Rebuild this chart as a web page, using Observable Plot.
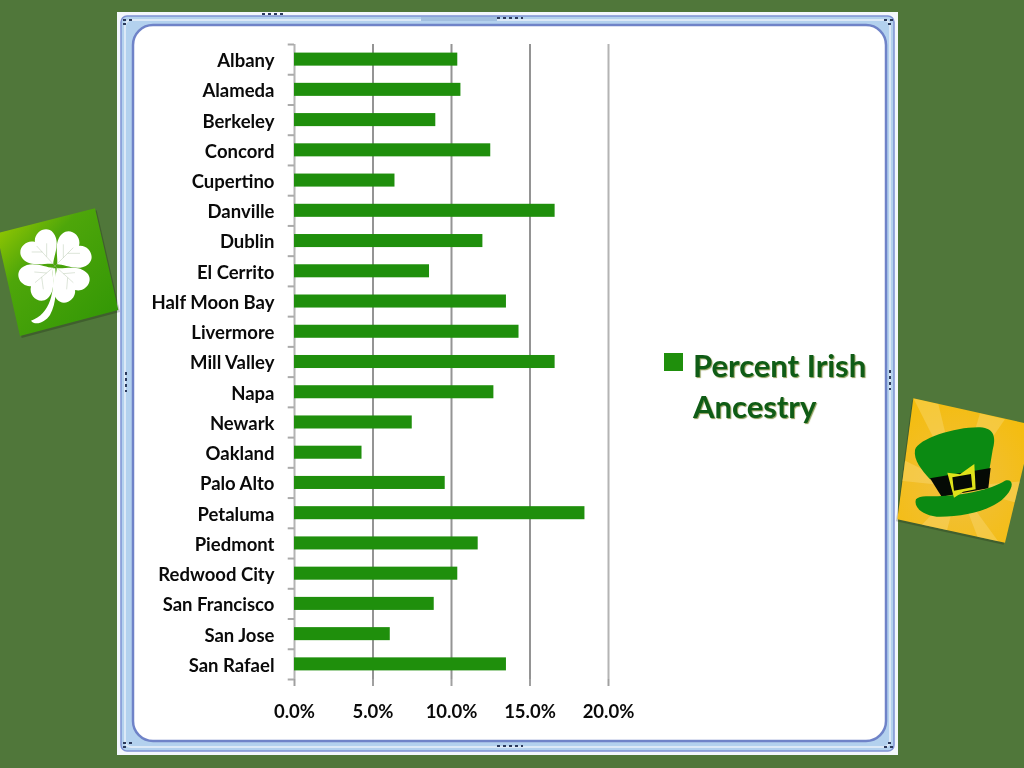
<!DOCTYPE html>
<html><head><meta charset="utf-8">
<script src="https://cdn.jsdelivr.net/npm/d3@7"></script>
<script src="https://cdn.jsdelivr.net/npm/@observablehq/plot@0.6"></script>
<style>
html,body{margin:0;padding:0;background:#50773a;width:1024px;height:768px;overflow:hidden}
#wrap{position:relative;width:1024px;height:768px;filter:blur(.35px)}
#deco{position:absolute;left:0;top:0}
#chart{position:absolute;left:0;top:0}
#chart svg{background:transparent;display:block}
#legend{position:absolute;left:664px;top:345px;font:bold 31px Lato,sans-serif;color:#0f5c16;line-height:41px;text-shadow:1px 1px 1px #8a9a55}
#legend i{position:absolute;left:0;top:8px;width:19px;height:18px;background:#1f8f0c}
#legend div{margin-left:29px;white-space:nowrap}
</style></head><body>
<div id="wrap">
<svg id="deco" width="1024" height="768">
<defs>
<linearGradient id="cl" x1="0" y1="0" x2="1" y2="1"><stop offset="0" stop-color="#a6d000"/><stop offset=".35" stop-color="#4ea60a"/><stop offset="1" stop-color="#2f9505"/></linearGradient>
<radialGradient id="gold" cx=".45" cy=".6" r=".75"><stop offset="0" stop-color="#f0c040"/><stop offset="1" stop-color="#f5bc05"/></radialGradient>
<clipPath id="hatclip"><path d="M100,55 L460,135 L375,488 L52,418 Z"/></clipPath>
<path id="lf" d="M0 -8C-12 -24 -60 -42 -60 -80C-60 -110 -18 -120 0 -94C18 -120 60 -110 60 -80C60 -42 12 -24 0 -8Z"/>
</defs>
<rect x="117" y="12" width="781" height="743" fill="#f3f7fc"/>
<rect x="121" y="16" width="773" height="735" rx="6" fill="#b3d1ee" stroke="#7f93d4" stroke-width="1.5"/>
<rect x="125" y="20" width="765" height="727" rx="6" fill="none" stroke="#dce9f7" stroke-width="2"/>
<rect x="133" y="25" width="753" height="716" rx="20" fill="#fff" stroke="#6f83c8" stroke-width="2.5"/>
<g stroke="#2c3a5c" stroke-width="2" stroke-dasharray="3 3" fill="none">
<path d="M262 14H286M497 18H523M497 746H523"/>
<path d="M126 372V392M890 370V390"/>
<path d="M123 20H132M123 24H128M123 743H132M123 747H128M884 20H893M888 24H893M884 747H893M888 743H893"/>
</g>
<rect x="421" y="17" width="76" height="4" fill="#a2bfe0"/>

<g transform="translate(0,190) scale(.3333)">
<path d="M285,55 L355,360 L60,438 L-10,130 Z" fill="#000" opacity=".2" transform="translate(5,6)"/>
<path d="M285,55 L355,360 L60,438 L-10,130 Z" fill="url(#cl)"/>
<g fill="#fff" transform="translate(165,228)">
<use href="#lf" transform="rotate(-40)"/>
<use href="#lf" transform="rotate(50)"/>
<use href="#lf" transform="rotate(140)"/>
<use href="#lf" transform="rotate(230)"/>
<g stroke="#a9bda0" stroke-width="1.2" fill="none">
<path d="M0 0L-55 -60M-25 -28L-25 -68M-38 -42L-70 -42"/>
<path d="M0 0L55 -55M25 -25L25 -65M38 -38L75 -38"/>
<path d="M0 0L55 50M25 23L60 20M38 35L35 70"/>
<path d="M0 0L-60 50M-25 21L-62 18M-40 33L-35 70"/>
</g>
</g>
<path d="M156,235 C168,300 150,375 93,392 C105,408 135,398 150,375 C170,340 170,290 166,235Z" fill="#fff"/>
</g>

<g transform="translate(880,380) scale(.3333)">
<path d="M100,55 L460,135 L375,488 L52,418 Z" fill="#000" opacity=".2" transform="translate(-4,6)"/>
<path d="M100,55 L460,135 L375,488 L52,418 Z" fill="url(#gold)"/>
<g fill="#fbe39a" opacity=".3" clip-path="url(#hatclip)">
<path d="M235,320 L100,55 L175,72Z"/><path d="M235,320 L300,100 L375,118Z"/><path d="M235,320 L40,300 L50,230Z"/><path d="M235,320 L470,300 L450,380Z"/><path d="M235,320 L120,440 L200,455Z"/><path d="M235,320 L300,490 L370,505Z"/>
</g>
<path d="M105,210 C115,175 230,140 300,142 C345,145 348,175 338,210 L328,270 L150,298 C125,270 100,240 105,210Z" fill="#0b8a12"/>
<path d="M150,295 L332,264 L325,325 L185,350Z" fill="#050a05"/>
<path d="M108,358 C120,345 150,350 185,348 C250,345 330,330 375,302 C400,295 402,320 380,345 C345,390 250,412 170,410 C125,405 100,380 108,358Z" fill="#0b8a12"/>
<path d="M202,278 L240,283 L283,252 L287,328 L250,335 L222,353Z" fill="#dfe31a"/>
<path d="M217,292 L273,282 L277,322 L222,332Z" fill="#050a05"/>
</g>
</svg>
<div id="chart"></div>
<div id="legend"><i></i><div>Percent Irish</div><div>Ancestry</div></div>
</div>
<script>
const cities = ["Albany","Alameda","Berkeley","Concord","Cupertino","Danville","Dublin","El Cerrito","Half Moon Bay","Livermore","Mill Valley","Napa","Newark","Oakland","Palo Alto","Petaluma","Piedmont","Redwood City","San Francisco","San Jose","San Rafael"];
const percentIrish = [10.4,10.6,9.0,12.5,6.4,16.6,12.0,8.6,13.5,14.3,16.6,12.7,7.5,4.3,9.6,18.5,11.7,10.4,8.9,6.1,13.5];
const xTicks = [0,5,10,15,20];
const halfStep = 15.12;
const chart = Plot.plot({
  width:1024, height:768,
  marginLeft:294, marginRight:416, marginTop:44, marginBottom:89,
  style:{background:"transparent",fontFamily:"Lato, sans-serif"},
  x:{domain:[0,20],label:null},
  y:{domain:cities,label:null,padding:0,round:false},
  marks:[
    Plot.ruleX(xTicks,{x:d=>d,stroke:d=>(d===0||d===20)?"#b4b4b4":"#949494",strokeWidth:2}),
    Plot.axisX({ticks:xTicks,tickSize:7,tickPadding:18,stroke:"#a0a0a0",strokeWidth:2,fontSize:18.5,fontWeight:"bold",fill:"#0a0a0a",tickFormat:d=>d.toFixed(1)+"%",label:null}),
    Plot.ruleY(cities,{y:d=>d,x1:-0.4,x2:0,dy:-halfStep,stroke:"#aaa",strokeWidth:2}),
    Plot.ruleY([cities[cities.length-1]],{y:d=>d,x1:-0.4,x2:0,dy:halfStep,stroke:"#aaa",strokeWidth:2}),
    Plot.axisY({tickSize:0,tickPadding:20,dy:1.5,fontSize:18.5,fontWeight:"bold",fill:"#0a0a0a",label:null}),
    Plot.barX(cities,{y:d=>d,x1:0,x2:(d,i)=>percentIrish[i],insetTop:8.6,insetBottom:8.6,fill:"#1f8f0c",style:{filter:"drop-shadow(1px 2px 1.5px rgba(0,0,0,.35))"}})
  ]
});
document.getElementById("chart").append(chart);
</script>
</body></html>
